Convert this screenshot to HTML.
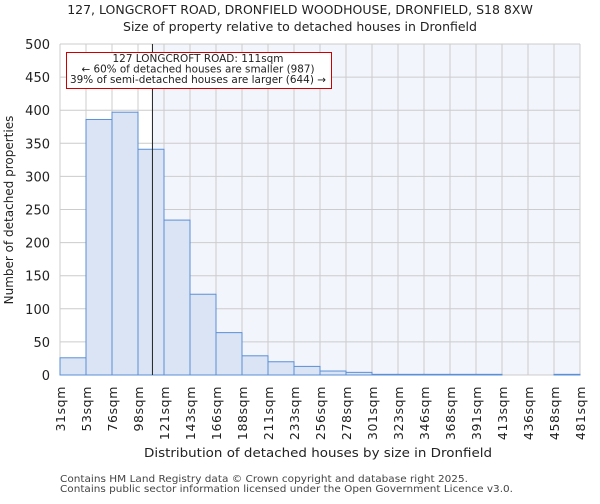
<!DOCTYPE html>
<html><head><meta charset="utf-8"><style>
body{margin:0;background:#fff;font-family:"DejaVu Sans","Liberation Sans",sans-serif}
text{font-family:"DejaVu Sans","Liberation Sans",sans-serif}
</style></head><body>
<svg id="c" width="600" height="500">
<text x="300" y="14" text-anchor="middle" font-size="12.5" fill="#222">127, LONGCROFT ROAD, DRONFIELD WOODHOUSE, DRONFIELD, S18 8XW</text>
<text x="300" y="31" text-anchor="middle" font-size="12.5" fill="#222">Size of property relative to detached houses in Dronfield</text>
<g id="plot"></g>
<text x="318" y="457" text-anchor="middle" font-size="12.5" fill="#222" textLength="348" lengthAdjust="spacingAndGlyphs">Distribution of detached houses by size in Dronfield</text>
<text transform="translate(13,210) rotate(-90)" text-anchor="middle" font-size="12" fill="#222">Number of detached properties</text>
<text x="60" y="482" font-size="10" fill="#444" textLength="408" lengthAdjust="spacingAndGlyphs">Contains HM Land Registry data © Crown copyright and database right 2025.</text>
<text x="60" y="492" font-size="10" fill="#444" textLength="453" lengthAdjust="spacingAndGlyphs">Contains public sector information licensed under the Open Government Licence v3.0.</text>
</svg>
<script>
const tickLabels=["31sqm","53sqm","76sqm","98sqm","121sqm","143sqm","166sqm","188sqm","211sqm","233sqm","256sqm","278sqm","301sqm","323sqm","346sqm","368sqm","391sqm","413sqm","436sqm","458sqm","481sqm"];
const binStarts=[31,53.5,76,98.5,121,143.5,166,188.5,211,233.5,256,278.5,301,323.5,346,368.5,391,413.5,436,458.5];
const counts=[26,386,397,341,234,122,64,29,20,13,6,4,1,1,1,1,1,0,0,1];
const yTicks=[0,50,100,150,200,250,300,350,400,450,500];
const markerValue=111;
const NS="http://www.w3.org/2000/svg";
const L=60,R=580,T=44,B=375,xmin=31,xmax=481,ymax=500;
const x=v=>L+(v-xmin)/(xmax-xmin)*(R-L);
const y=v=>B-v/ymax*(B-T);
const g=document.getElementById('plot');
function mk(t,a){const e=document.createElementNS(NS,t);for(const k in a)e.setAttribute(k,a[k]);g.appendChild(e);return e;}
let e;
e=mk('rect',{x:L,y:T,width:R-L,height:B-T,fill:'#fff'});


e=mk('rect',{x:x(markerValue),y:T,width:R-x(markerValue),height:B-T,fill:'#f3f5fd'});


yTicks.forEach(t=>{
 e=mk('line',{x1:L,x2:R,y1:y(t),y2:y(t),stroke:'#ccc','stroke-width':1});
 
 
 e=mk('text',{x:L-10,y:y(t)+5,'text-anchor':'end','font-size':13,fill:'#222'});
 e.textContent=t;
 
 
});
tickLabels.forEach((lb,i)=>{
 const v=xmin+i*22.5;
 e=mk('line',{x1:x(v),x2:x(v),y1:T,y2:B,stroke:'#ccc','stroke-width':1});
 
 
 e=mk('text',{transform:`translate(${x(v)+5},386) rotate(-90)`,'text-anchor':'end','font-size':12.5,fill:'#222','letter-spacing':'0.6'});
 e.textContent=lb;
 
 
});
counts.forEach((c,i)=>{
 if(c<=0)return;
 const x0=x(binStarts[i]),x1=x(binStarts[i]+22.5);
 e=mk('rect',{x:x0,y:y(c),width:x1-x0,height:B-y(c),fill:'#dae4f4',stroke:'#5b8fd6','stroke-width':1});
 
 
});
e=mk('line',{x1:x(markerValue),x2:x(markerValue),y1:T,y2:B,stroke:'#222','stroke-width':1});


e=mk('rect',{x:66.5,y:52.5,width:265,height:36,fill:'#fff',stroke:'#cc0000','stroke-width':1});


const ann=[["127 LONGCROFT ROAD: 111sqm",171],["← 60% of detached houses are smaller (987)",233],["39% of semi-detached houses are larger (644) →",256]];
ann.forEach((s,i)=>{
 e=mk('text',{x:198,y:62+i*10.5,'text-anchor':'middle','font-size':10.3,fill:'#222',textLength:s[1],lengthAdjust:'spacingAndGlyphs'});
 e.textContent=s[0];
 
 
});
</script>
</body></html>
